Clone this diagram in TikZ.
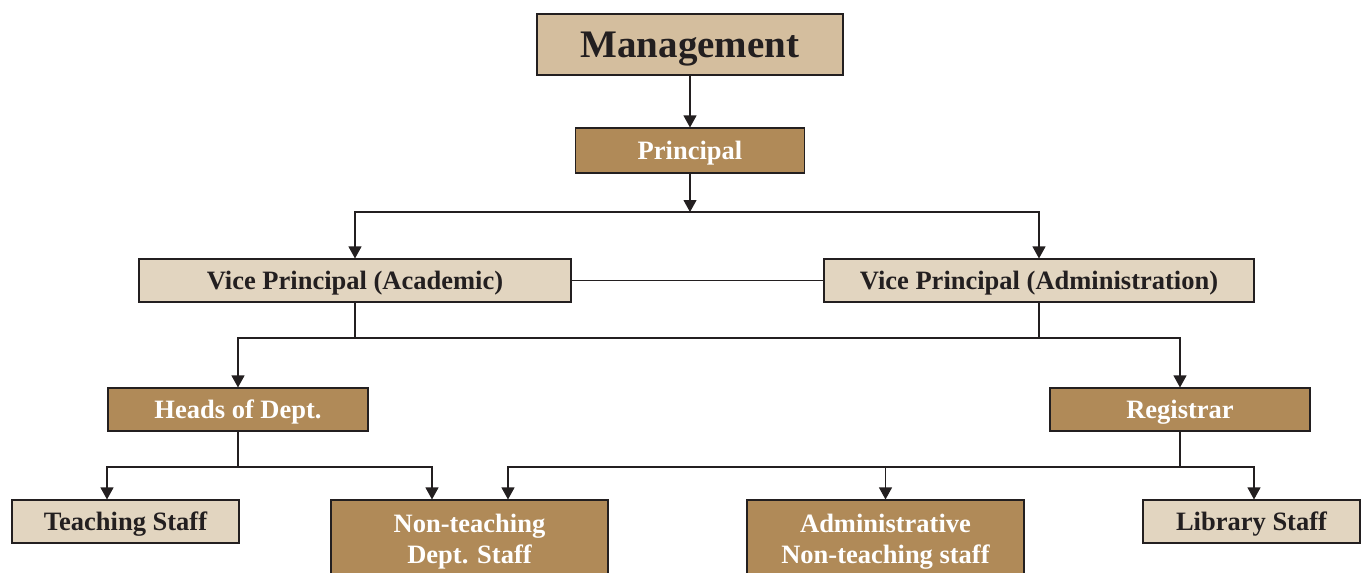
\documentclass[tikz,border=0pt]{standalone}
\usepackage{fontspec}
\setmainfont{Liberation Serif}
\usetikzlibrary{arrows.meta}
\definecolor{mgmtfill}{HTML}{D4BE9E}
\definecolor{darkfill}{HTML}{B08A58}
\definecolor{lightfill}{HTML}{E2D5C0}
\definecolor{ink}{HTML}{231F20}
\begin{document}
\begin{tikzpicture}[x=1pt,y=-1pt,
  box/.style={draw=ink, line width=1.1pt, inner sep=0pt, align=center,
    font=\bfseries\fontsize{26.5}{31}\selectfont},
  darkbox/.style={box, fill=darkfill, text=white},
  lightbox/.style={box, fill=lightfill, text=ink},
  oneline/.style={text height=17.5pt, text depth=0pt},
  conn/.style={draw=ink, line width=1.1pt},
  arr/.style={conn, -{Triangle[width=13pt,length=12pt]}}
]
\useasboundingbox (0,0) rectangle (1361,573);
\clip (0,0) rectangle (1361,573);

\node[box, fill=mgmtfill, text=ink, minimum width=306pt, minimum height=61pt,
  font=\bfseries\fontsize{39}{44}\selectfont, text height=26pt, text depth=0pt]
  (mgmt) at (690,44.5) {Management};
\node[darkbox, oneline, minimum width=229pt, minimum height=45pt] (prin) at (690,150.5) {Principal};
\node[lightbox, oneline, minimum width=432pt, minimum height=43pt] (vpa) at (355,280.5) {Vice Principal (Academic)};
\node[lightbox, oneline, minimum width=430pt, minimum height=43pt] (vpd) at (1039,280.5) {Vice Principal (Administration)};
\node[darkbox, oneline, minimum width=260pt, minimum height=43pt] (heads) at (238,409.5) {Heads of Dept.};
\node[darkbox, oneline, minimum width=260pt, minimum height=43pt] (reg) at (1180,409.5) {Registrar};
\node[lightbox, oneline, minimum width=227pt, minimum height=43pt] (teach) at (125.5,521.5) {Teaching Staff};
\node[darkbox, minimum width=277pt, minimum height=83pt] (ntd) at (469.5,541.5) {Non-teaching\\Dept. Staff};
\node[darkbox, minimum width=277pt, minimum height=83pt] (adm) at (885.5,541.5) {Administrative\\Non-teaching staff};
\node[lightbox, oneline, minimum width=217pt, minimum height=43pt] (lib) at (1251.5,521.5) {Library Staff};

\coordinate (j1) at (690,212);
\coordinate (bar2) at (0,338);
\coordinate (bar3) at (0,467);

\draw[arr] (mgmt.south) -- (prin.north);
\draw[arr] (prin.south) -- (j1);
\draw[arr] (j1) -| (vpa.north);
\draw[arr] (j1) -| (vpd.north);
\draw[conn] (vpa.east) -- (vpd.west);

\draw[conn] (vpa.south) -- (vpa.south |- bar2);
\draw[conn] (vpd.south) -- (vpd.south |- bar2);
\draw[conn] (vpa.south |- bar2) -- (vpd.south |- bar2);
\draw[arr] (vpa.south |- bar2) -| (heads.north);
\draw[arr] (vpd.south |- bar2) -| (reg.north);

\draw[conn] (heads.south) -- (heads.south |- bar3);
\draw[arr] (heads.south |- bar3) -| ([xshift=-18.5pt]teach.north);
\draw[arr] (heads.south |- bar3) -| ([xshift=-37.5pt]ntd.north);

\draw[conn] (reg.south) -- (reg.south |- bar3);
\draw[arr] (reg.south |- bar3) -| ([xshift=38.5pt]ntd.north);
\draw[arr] (reg.south |- bar3) -| ([xshift=2.5pt]lib.north);
\draw[arr] (adm.north |- bar3) -- (adm.north);
\end{tikzpicture}
\end{document}
